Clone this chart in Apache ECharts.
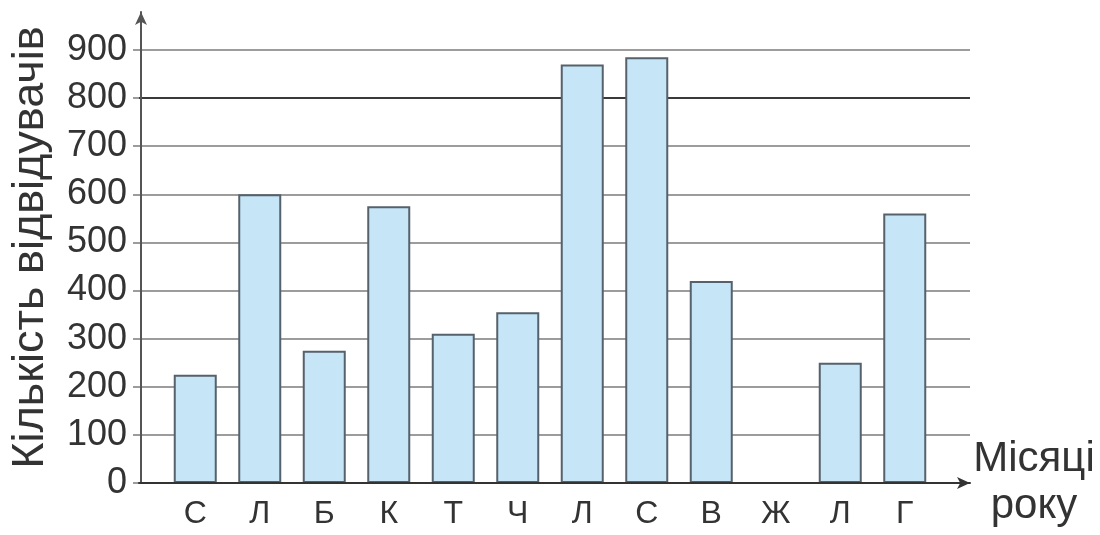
<!DOCTYPE html>
<html>
<head>
<meta charset="utf-8">
<script src="https://cdn.jsdelivr.net/npm/echarts@6/dist/echarts.min.js"></script>
<style>
  html, body { margin: 0; padding: 0; background: #fff; }
  #chart { width: 1100px; height: 535px; }
</style>
</head>
<body>
<div id="chart"></div>
<script>
let months = ['С', 'Л', 'Б', 'К', 'Т', 'Ч', 'Л', 'С', 'В', 'Ж', 'Л', 'Г'];
let visitors = [225, 600, 275, 575, 310, 355, 870, 885, 420, 0, 250, 560];
let yTicks = [0, 100, 200, 300, 400, 500, 600, 700, 800, 900];

let textColor = '#333';
let fontName = 'Liberation Sans';
// one colour per split line, the 800 line is drawn darker in the picture
let gridColors = yTicks.map(v => v === 800 ? '#3a3a3a' : '#9c9c9c');

let myChart = echarts.init(document.getElementById('chart'));

option = {
    animation: false,
    textStyle: { fontFamily: fontName },
    grid: [
        // axes + split lines
        { left: 139, right: 130, top: 50, bottom: 52 },
        // taller grid only for the arrowed y axis line
        { left: 139, right: 130, top: 12, bottom: 52 },
        // bars
        { left: 163, right: 163, top: 50, bottom: 52 }
    ],
    xAxis: [{
        gridIndex: 0,
        type: 'category',
        data: months,
        z: 3,
        axisLine: {
            show: true,
            symbol: ['none', 'arrow'],
            symbolSize: [9, 13],
            lineStyle: { color: '#333', width: 2 }
        },
        axisTick: { show: false },
        axisLabel: { show: false },
        name: 'Місяці\nроку',
        nameLocation: 'end',
        nameGap: 64,
        nameTextStyle: {
            fontSize: 42,
            color: textColor,
            align: 'center',
            lineHeight: 47,
            padding: [8, 0, 0, 0]
        }
    }, {
        gridIndex: 1,
        type: 'value',
        show: false
    }, {
        gridIndex: 2,
        type: 'category',
        data: months,
        axisLine: { show: false },
        axisTick: { show: false },
        axisLabel: { fontSize: 32, color: textColor, margin: 15 }
    }],
    yAxis: [{
        gridIndex: 0,
        type: 'value',
        min: 0,
        max: 900,
        interval: 100,
        axisLine: { show: false },
        axisTick: { show: true, length: 6, lineStyle: { color: '#9c9c9c', width: 2 } },
        axisLabel: { fontSize: 36, color: textColor, margin: 12 },
        splitLine: { lineStyle: { color: gridColors, width: 2 } }
    }, {
        gridIndex: 1,
        type: 'value',
        min: 0,
        max: 1,
        axisLine: {
            show: true,
            symbol: ['none', 'arrow'],
            symbolSize: [9, 13],
            lineStyle: { color: '#555', width: 2 }
        },
        axisTick: { show: false },
        axisLabel: { show: false },
        splitLine: { show: false },
        name: 'Кількість відвідувачів',
        nameLocation: 'middle',
        nameGap: 88,
        nameTextStyle: { fontSize: 45, color: textColor }
    }, {
        gridIndex: 2,
        type: 'value',
        min: 0,
        max: 900,
        show: false
    }],
    series: [{
        type: 'bar',
        xAxisIndex: 2,
        yAxisIndex: 2,
        data: visitors,
        barWidth: 43,
        itemStyle: {
            color: '#c6e6f8',
            borderColor: '#56626b',
            borderWidth: 2
        }
    }]
};

myChart.setOption(option);
</script>
</body>
</html>
